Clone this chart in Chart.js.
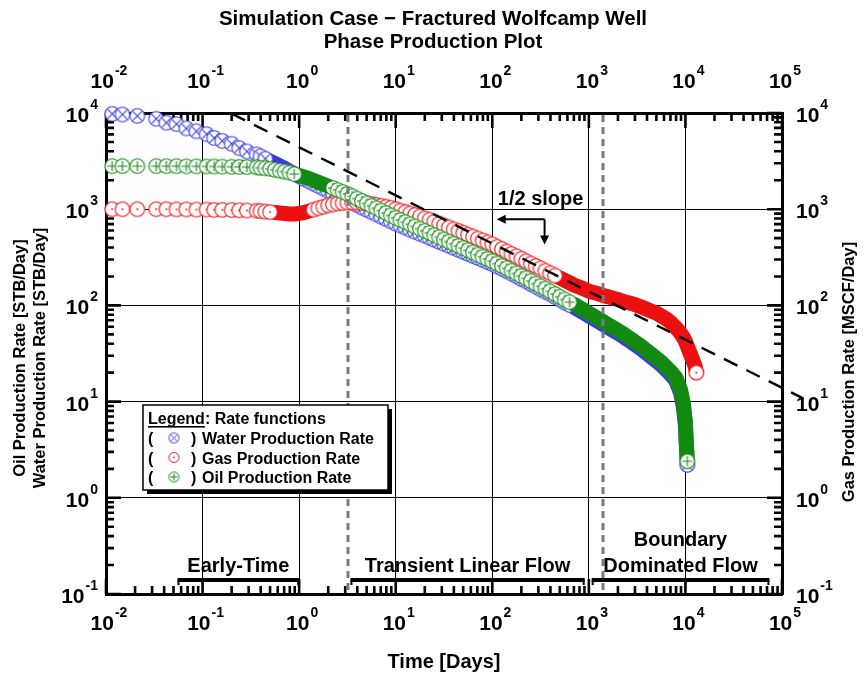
<!DOCTYPE html>
<html>
<head>
<meta charset="utf-8">
<script src="https://cdn.jsdelivr.net/npm/chart.js@4.4.1/dist/chart.umd.min.js"></script>
<style>
  html, body { margin: 0; padding: 0; background: #ffffff; }
  #wrap { width: 864px; height: 676px; }
</style>
</head>
<body>
<div id="wrap"><canvas id="plot" width="864" height="676"></canvas></div>
<script>
// ---- Simulated production history (time in days, rates per day) ----
const days = [
  0.0116, 0.0148, 0.0211, 0.0331, 0.0422, 0.0537, 0.0679, 0.0863, 0.110, 0.132, 0.160, 0.200, 0.240, 0.288, 0.363,
  0.398, 0.447, 0.501, 0.562, 0.631, 0.708, 0.794, 0.891,
  1.00, 1.12, 1.26, 1.41, 1.58, 1.78, 2.00, 2.24, 2.51, 2.82,
  3.16, 3.55, 3.98, 4.47, 5.01, 5.62, 6.31, 7.08, 7.94, 8.91,
  10.0, 11.2, 12.6, 14.1, 15.8, 17.8, 20.0, 22.4, 25.1, 28.2,
  31.6, 35.5, 39.8, 44.7, 50.1, 56.2, 63.1, 70.8, 79.4, 89.1,
  100, 112, 126, 141, 158, 178, 200, 224, 251, 282,
  316, 355, 398, 447, 501, 562, 631, 708, 794, 891,
  1000, 1120, 1260, 1410, 1580, 1780, 2000, 2240, 2510, 2820,
  3160, 3550, 3980, 4470, 5010, 5620, 6310, 7080, 7940, 8910,
  9550, 10000, 10230, 10470, 11200, 12600, 13000
];

// Water production rate [STB/Day]
const waterRate = [
  9800, 9660, 9330, 8710, 7940, 7670, 6920, 6460, 6030, 5500, 5130, 4790, 4320, 3980, 3720,
  3548, 3350, 3162, 2985, 2818, 2661, 2483, 2344,
  2188, 2065, 1950, 1841, 1738, 1641, 1549, 1462, 1380, 1303,
  1230, 1164, 1102, 1042, 986, 933, 883, 836, 791, 748,
  708, 676, 643, 612, 583, 556, 530, 505, 481, 458,
  437, 416, 396, 378, 360, 343, 327, 311, 296, 282,
  269, 254, 240, 227, 214, 201, 188, 178, 167, 157,
  147, 139, 131, 122, 115, 107, 101, 95.2, 89.1, 83.1,
  77.6, 72.4, 67.5, 63.1, 58.9, 55.0, 51.3, 47.9, 44.1, 40.8,
  37.6, 34.7, 31.6, 28.8, 26.3, 24.0, 21.4, 19.0, 16.6, 12.3,
  8.7, 5.6, 3.4, 2.2, null, null, null
];

// Gas production rate [MSCF/Day]
const gasRate = [
  1000, 1000, 1000, 1000, 1000, 995, 995, 990, 990, 985, 985, 980, 975, 970, 965,
  955, 944, 933, 923, 912, 902, 891, 891,
  902, 923, 955, 989, 1023, 1059, 1096, 1122, 1148, 1161,
  1175, 1175, 1175, 1161, 1148, 1135, 1109, 1084, 1059, 1035,
  1000, 966, 933, 902, 871, 841, 804, 776, 741, 708,
  676, 646, 617, 596, 569, 543, 519, 495, 473, 452,
  432, 407, 385, 363, 343, 324, 305, 288, 272, 257,
  243, 229, 216, 204, 193, 182, 172, 162, 155, 148,
  141, 136, 132, 127, 123, 119, 115, 111, 107, 104,
  100, 95.5, 91.2, 87.1, 83.2, 77.6, 72.4, 66.1, 58.9, 51.3,
  46.2, 42.2, 39.8, 37.6, 31.6, 23.4, 20.0
];

// Oil production rate [STB/Day]
const oilRate = [
  2800, 2800, 2800, 2800, 2800, 2800, 2790, 2790, 2780, 2780, 2770, 2760, 2750, 2740, 2720,
  2692, 2661, 2630, 2570, 2512, 2455, 2399, 2317,
  2239, 2163, 2089, 1995, 1905, 1820, 1738, 1660, 1585, 1514,
  1445, 1365, 1288, 1216, 1148, 1084, 1023, 966, 912, 861,
  813, 773, 733, 697, 661, 628, 596, 566, 537, 511,
  484, 460, 437, 415, 394, 374, 355, 337, 320, 304,
  288, 272, 257, 243, 229, 215, 202, 191, 179, 168,
  158, 149, 140, 131, 123, 115, 108, 102, 95.5, 89.1,
  83.2, 77.6, 72.4, 67.6, 63.1, 58.9, 55.0, 51.3, 47.3, 43.7,
  40.3, 37.2, 33.9, 30.9, 28.2, 25.7, 22.9, 20.4, 17.8, 13.2,
  9.33, 6.03, 3.63, 2.40, null, null, null
];

// Half-slope reference line (end points)
const halfSlopeDays = [0.2, 160000];
const halfSlopeRate = [9840, 11.0];

// Flow-regime boundaries [days]
const regimeBounds = [3.24, 1390];
// Flow-regime bars: [start day, end day]
const regimeSpans = [[0.055, 1.0], [3.4, 906], [1070, 74000]];
const regimeNames = [['Early-Time'], ['Transient Linear Flow'], ['Boundary', 'Dominated Flow']];

// Axis decades and their exponent labels
const timeDecades = [0.01, 0.1, 1, 10, 100, 1000, 10000, 100000];
const timeExponents = ['-2', '-1', '0', '1', '2', '3', '4', '5'];
const rateDecades = [0.1, 1, 10, 100, 1000, 10000];
const rateExponents = ['-1', '0', '1', '2', '3', '4'];

const FONT = "'Liberation Sans', Arial, Helvetica, sans-serif";
const COLORS = { water: 'rgb(58,58,228)', gas: 'rgb(236,16,16)', oil: 'rgb(18,138,18)' };

// ---- marker glyphs: white filled circle with an inner symbol ----
function makeMarker(color, kind, r, lw) {
  const s = Math.ceil(2 * r + lw + 2);
  const c = document.createElement('canvas');
  c.width = s; c.height = s;
  const g = c.getContext('2d');
  const m = s / 2;
  g.beginPath(); g.arc(m, m, r, 0, Math.PI * 2);
  g.fillStyle = '#ffffff'; g.fill();
  g.strokeStyle = color; g.lineWidth = lw; g.stroke();
  g.beginPath();
  if (kind === 'x') {
    const d = r * 0.62;
    g.moveTo(m - d, m - d); g.lineTo(m + d, m + d);
    g.moveTo(m - d, m + d); g.lineTo(m + d, m - d);
    g.stroke();
  } else if (kind === '+') {
    const d = r * 0.7;
    g.moveTo(m - d, m); g.lineTo(m + d, m);
    g.moveTo(m, m - d); g.lineTo(m, m + d);
    g.stroke();
  } else {
    g.arc(m, m, Math.max(0.9, r * 0.13), 0, Math.PI * 2);
    g.fillStyle = color; g.fill();
  }
  return c;
}
const markers = {
  water: makeMarker(COLORS.water, 'x', 7.3, 1.1),
  gas: makeMarker(COLORS.gas, 'dot', 7.3, 1.1),
  oil: makeMarker(COLORS.oil, '+', 7.3, 1.1)
};
const legendMarkers = {
  water: makeMarker(COLORS.water, 'x', 5, 1),
  gas: makeMarker(COLORS.gas, 'dot', 5, 1),
  oil: makeMarker(COLORS.oil, '+', 5, 1)
};

// time windows where the output is so dense the symbols merge into a solid band
const solidWindows = {
  water: [[0.5, 1.0], [700, 1e9]],
  gas: [[0.55, 1.3], [500, 1e9]],
  oil: [[0.9, 2.0], [700, 1e9]]
};
const inWin = (key, t) => solidWindows[key].some(w => t >= w[0] && t <= w[1]);

function rateSeries(key, label, values, yAxisID, order) {
  const pts = [];
  days.forEach((t, i) => { if (values[i] != null) pts.push({ x: t, y: values[i] }); });
  const lastIndex = pts.length - 1;
  return {
    label, data: pts, yAxisID, order,
    showLine: true,
    borderColor: COLORS[key],
    borderWidth: 15,
    borderCapStyle: 'round',
    borderJoinStyle: 'round',
    segment: {
      borderColor: ctx => (inWin(key, ctx.p0.parsed.x) && inWin(key, ctx.p1.parsed.x)) ? COLORS[key] : 'rgba(0,0,0,0)'
    },
    pointStyle: markers[key],
    pointRadius: ctx => (ctx.dataIndex !== lastIndex && inWin(key, ctx.raw.x)) ? 0 : 7.3,
    clip: false,
    _legendMarker: legendMarkers[key]
  };
}

function logAxis(position, min, max, decades, size, showGrid) {
  const horizontal = position === 'top' || position === 'bottom';
  return {
    type: 'logarithmic', position, min, max,
    afterBuildTicks: s => { s.ticks = decades.map(v => ({ value: v })); },
    afterFit: s => { if (horizontal) s.height = size; else s.width = size; },
    ticks: { display: false, autoSkip: false },
    grid: { display: showGrid, color: '#000000', lineWidth: 1, drawTicks: false },
    border: { display: true, color: '#000000', width: 3 }
  };
}

function drawTextLine(ctx, text, x, y, size, align) {
  ctx.font = `bold ${size}px ${FONT}`;
  ctx.textAlign = align || 'center';
  ctx.textBaseline = 'alphabetic';
  ctx.fillText(text, x, y);
}

function drawPow(ctx, exp, x, y, align) {
  const base = 21, sup = 14;
  ctx.font = `bold ${base}px ${FONT}`;
  const wb = ctx.measureText('10').width;
  ctx.font = `bold ${sup}px ${FONT}`;
  const we = ctx.measureText(exp).width;
  const total = wb + 1 + we;
  const x0 = align === 'center' ? x - total / 2 : (align === 'right' ? x - total : x);
  ctx.textAlign = 'left'; ctx.textBaseline = 'alphabetic';
  ctx.font = `bold ${base}px ${FONT}`;
  ctx.fillText('10', x0, y);
  ctx.font = `bold ${sup}px ${FONT}`;
  ctx.fillText(exp, x0 + wb + 1, y - 13);
}

function arrowHead(ctx, x, y, dir) {
  const L = 9, W = 4.5;
  ctx.beginPath();
  if (dir === 'left') { ctx.moveTo(x, y); ctx.lineTo(x + L, y - W); ctx.lineTo(x + L, y + W); }
  else { ctx.moveTo(x, y); ctx.lineTo(x - W, y - L); ctx.lineTo(x + W, y - L); }
  ctx.closePath(); ctx.fill();
}

const decorations = {
  id: 'decorations',
  beforeDatasetsDraw(chart) {
    // inward minor/major tick marks on all four sides
    const { ctx, chartArea: a } = chart;
    const sx = chart.scales.x, sy = chart.scales.y;
    ctx.save();
    ctx.strokeStyle = '#000'; ctx.lineWidth = 2.6;
    const marks = (scale, lo, hi) => {
      const out = [];
      for (let e = Math.round(Math.log10(lo)); e <= Math.round(Math.log10(hi)); e++) {
        for (let m = 1; m <= 9; m++) {
          const v = m * Math.pow(10, e);
          if (v < lo * 0.999 || v > hi * 1.001) continue;
          out.push({ p: scale.getPixelForValue(v), major: m === 1 });
        }
      }
      return out;
    };
    ctx.beginPath();
    marks(sx, sx.min, sx.max).forEach(k => {
      const len = k.major ? 15 : 8;
      ctx.moveTo(k.p, a.bottom); ctx.lineTo(k.p, a.bottom - len);
      ctx.moveTo(k.p, a.top); ctx.lineTo(k.p, a.top + len);
    });
    marks(sy, sy.min, sy.max).forEach(k => {
      const len = k.major ? 15 : 8;
      ctx.moveTo(a.left, k.p); ctx.lineTo(a.left + len, k.p);
      ctx.moveTo(a.right, k.p); ctx.lineTo(a.right - len, k.p);
    });
    ctx.stroke();
    ctx.restore();
  },
  afterDatasetsDraw(chart) {
    const { ctx, chartArea: a } = chart;
    const sx = chart.scales.x, sy = chart.scales.y;
    ctx.save();
    // flow-regime boundaries
    ctx.strokeStyle = '#7a7a7a'; ctx.lineWidth = 3; ctx.setLineDash([7, 5]);
    regimeBounds.forEach(t => {
      const px = Math.round(sx.getPixelForValue(t));
      ctx.beginPath(); ctx.moveTo(px, a.top + 2); ctx.lineTo(px, a.bottom - 2); ctx.stroke();
    });
    ctx.setLineDash([]);
    // flow-regime bars and names
    ctx.fillStyle = '#000'; ctx.strokeStyle = '#000';
    const barY = sy.getPixelForValue(0.14);
    regimeSpans.forEach((span, i) => {
      const x0 = sx.getPixelForValue(span[0]), x1 = sx.getPixelForValue(span[1]);
      ctx.lineWidth = 4;
      ctx.beginPath(); ctx.moveTo(x0, barY); ctx.lineTo(x1, barY); ctx.stroke();
      ctx.lineWidth = 2;
      ctx.beginPath(); ctx.moveTo(x0 + 1, barY); ctx.lineTo(x0 + 1, barY + 5);
      ctx.moveTo(x1 - 1, barY); ctx.lineTo(x1 - 1, barY + 5); ctx.stroke();
      const cx = (x0 + x1) / 2;
      const lines = regimeNames[i];
      lines.forEach((s, j) => {
        drawTextLine(ctx, s, cx, barY - 8 - (lines.length - 1 - j) * 26, 20, 'center');
      });
    });
    // half-slope annotation
    const ax = sx.getPixelForValue(348), ay = sy.getPixelForValue(787);
    const tipX = sx.getPixelForValue(111), tipY = sy.getPixelForValue(430);
    drawTextLine(ctx, '1/2 slope', ax - 4, ay - 14, 20, 'center');
    ctx.lineWidth = 2;
    ctx.beginPath(); ctx.moveTo(ax, ay); ctx.lineTo(tipX + 6, ay);
    ctx.moveTo(ax, ay); ctx.lineTo(ax, tipY - 6); ctx.stroke();
    arrowHead(ctx, tipX, ay, 'left');
    arrowHead(ctx, ax, tipY, 'down');
    // legend box
    const lx = a.left + 37, ly = 405, lw = 245, lh = 85;
    ctx.fillStyle = '#000'; ctx.fillRect(lx + 4, ly + 4, lw, lh);
    ctx.fillStyle = '#fff'; ctx.fillRect(lx, ly, lw, lh);
    ctx.strokeStyle = '#000'; ctx.lineWidth = 1.5; ctx.strokeRect(lx, ly, lw, lh);
    ctx.fillStyle = '#000';
    drawTextLine(ctx, 'Legend', lx + 5, ly + 19, 16, 'left');
    const wLeg = ctx.measureText('Legend').width;
    ctx.fillRect(lx + 5, ly + 21, wLeg, 1.6);
    drawTextLine(ctx, ': Rate functions', lx + 5 + wLeg, ly + 19, 16, 'left');
    [0, 1, 2].forEach((di, r) => {
      const ds = chart.data.datasets[di];
      const by = ly + 39 + r * 19.5;
      drawTextLine(ctx, '(', lx + 5, by, 16, 'left');
      const mk = ds._legendMarker;
      ctx.drawImage(mk, lx + 31 - mk.width / 2, by - 6 - mk.height / 2);
      drawTextLine(ctx, ')', lx + 48, by, 16, 'left');
      drawTextLine(ctx, ds.label, lx + 59, by, 16, 'left');
    });
    ctx.restore();
  },
  afterDraw(chart) {
    const { ctx, chartArea: a } = chart;
    const sx = chart.scales.x, sy = chart.scales.y;
    ctx.save();
    ctx.fillStyle = '#000';
    // tick labels
    timeDecades.forEach((v, i) => {
      const px = sx.getPixelForValue(v);
      drawPow(ctx, timeExponents[i], px + 3, a.bottom + 36, 'center');
      drawPow(ctx, timeExponents[i], px + 3, a.top - 25, 'center');
    });
    rateDecades.forEach((v, i) => {
      const py = sy.getPixelForValue(v);
      drawPow(ctx, rateExponents[i], a.left - 8, py + 9, 'right');
      drawPow(ctx, rateExponents[i], a.right + 14, py + 9, 'left');
    });
    // titles
    drawTextLine(ctx, 'Simulation Case \u2212 Fractured Wolfcamp Well', 433, 25, 20.5, 'center');
    drawTextLine(ctx, 'Phase Production Plot', 433, 48, 20.5, 'center');
    drawTextLine(ctx, 'Time [Days]', (a.left + a.right) / 2, 668, 20, 'center');
    const vText = (text, x, y) => {
      ctx.save(); ctx.translate(x, y); ctx.rotate(-Math.PI / 2);
      ctx.font = `bold 16.5px ${FONT}`; ctx.textAlign = 'center'; ctx.textBaseline = 'middle';
      ctx.fillText(text, 0, 0); ctx.restore();
    };
    vText('Oil Production Rate [STB/Day]', 20, 358);
    vText('Water Production Rate [STB/Day]', 40, 358);
    vText('Gas Production Rate [MSCF/Day]', 849, 372);
    ctx.restore();
  }
};

const datasets = [
  rateSeries('water', 'Water Production Rate', waterRate, 'y', 3),
  rateSeries('gas', 'Gas Production Rate', gasRate, 'y2', 2),
  rateSeries('oil', 'Oil Production Rate', oilRate, 'y', 1),
  {
    label: 'Half slope',
    data: halfSlopeDays.map((t, i) => ({ x: t, y: halfSlopeRate[i] })),
    yAxisID: 'y2', order: 0,
    showLine: true, borderColor: '#000', borderWidth: 2.4, borderDash: [15, 10],
    pointRadius: 0, clip: false
  }
];

new Chart(document.getElementById('plot'), {
  type: 'scatter',
  data: { datasets },
  options: {
    responsive: false, animation: false, devicePixelRatio: 1,
    layout: { padding: 0 },
    plugins: { legend: { display: false }, tooltip: { enabled: false }, title: { display: false } },
    scales: {
      x: logAxis('bottom', 0.01, 100000, timeDecades, 82, true),
      x2: logAxis('top', 0.01, 100000, timeDecades, 113, false),
      y: logAxis('left', 0.1, 10000, rateDecades, 106, true),
      y2: logAxis('right', 0.1, 10000, rateDecades, 82, false)
    }
  },
  plugins: [decorations]
});
</script>
</body>
</html>
